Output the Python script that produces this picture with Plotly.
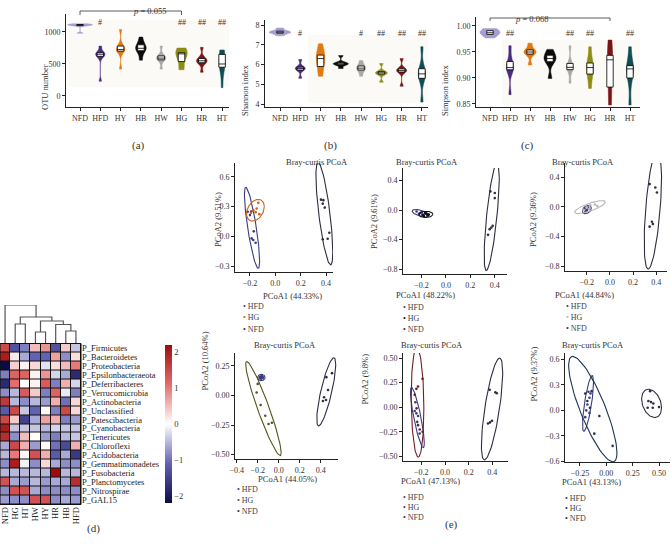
import numpy as np
import plotly.graph_objects as go

W, H = 671, 544
SERIF = "Liberation Serif"

# ---------------- data ----------------
groups = ["NFD", "HFD", "HY", "HB", "HW", "HG", "HR", "HT"]
group_colors = ["#a59cd2", "#4b2b7d", "#e07a10", "#0b0b0b", "#a9a9a9", "#8d8d14", "#7b1414", "#0f4d53"]

otu_number = {
    "NFD": [980, 1095, 1105, 1110, 1114, 1120, 1128],
    "HFD": [230, 600, 640, 652, 662, 690, 780],
    "HY": [420, 690, 710, 725, 760, 800, 1040],
    "HB": [560, 690, 725, 745, 780, 820, 920],
    "HW": [420, 550, 580, 592, 612, 640, 780],
    "HG": [410, 430, 645, 658, 668, 685, 750],
    "HR": [370, 510, 530, 550, 570, 600, 760],
    "HT": [130, 430, 470, 500, 600, 700, 720],
}
shannon_index = {
    "NFD": [7.45, 7.58, 7.62, 7.65, 7.70, 7.85],
    "HFD": [5.30, 5.70, 5.78, 5.82, 5.88, 6.25],
    "HY": [5.40, 5.60, 6.20, 6.30, 6.40, 6.55, 7.05],
    "HB": [5.80, 5.98, 6.02, 6.05, 6.10, 6.45],
    "HW": [5.40, 5.70, 5.78, 5.85, 5.95, 6.20],
    "HG": [5.10, 5.50, 5.55, 5.60, 5.65, 6.05],
    "HR": [4.90, 5.60, 5.68, 5.72, 5.80, 6.30],
    "HT": [4.10, 5.25, 5.45, 5.60, 5.85, 6.90],
}
simpson_index = {
    "NFD": [0.977, 0.983, 0.986, 0.988, 0.992, 0.995],
    "HFD": [0.868, 0.915, 0.918, 0.922, 0.935, 0.962],
    "HY": [0.925, 0.945, 0.949, 0.951, 0.955, 0.967],
    "HB": [0.899, 0.930, 0.935, 0.940, 0.945, 0.955],
    "HW": [0.890, 0.915, 0.919, 0.922, 0.930, 0.962],
    "HG": [0.880, 0.905, 0.915, 0.925, 0.930, 0.960],
    "HR": [0.848, 0.860, 0.905, 0.935, 0.942, 0.945, 0.973],
    "HT": [0.848, 0.895, 0.915, 0.920, 0.925, 0.960],
}
sig_a = {"HFD": "#", "HG": "##", "HR": "##", "HT": "##"}
sig_b = {"HFD": "#", "HW": "#", "HG": "##", "HR": "##", "HT": "##"}
sig_c = {"HFD": "##", "HW": "##", "HG": "##", "HT": "##"}

# heatmap (d)
hm_cols = ["NFD", "HG", "HT", "HW", "HY", "HR", "HB", "HFD"]
hm_rows = ["P_Firmicutes", "P_Bacteroidetes", "P_Proteobacteria", "P_Epsilonbacteraeota",
           "P_Deferribacteres", "P_Verrucomicrobia", "P_Actinobacteria", "P_Unclassified",
           "P_Patescibacteria", "P_Cyanobacteria", "P_Tenericutes", "P_Chloroflexi",
           "P_Acidobacteria", "P_Gemmatimonadetes", "P_Fusobacteria", "P_Planctomycetes",
           "P_Nitrospirae", "P_GAL15"]
hm_values = [
    [1.5, -1.3, -0.9, 0.5, 0.8, -1.3, 0.4, -0.4],
    [2.0, 0.15, -0.6, -1.1, -1.1, 0.7, -0.8, 0.25],
    [-2.2, 0.35, 0.1, 0.3, -0.2, 0.25, 0.5, 1.0],
    [-0.9, 1.2, 1.2, 0.1, 0.8, -0.3, -0.6, -1.8],
    [-1.8, 1.1, 0.0, 0.1, 1.3, -0.9, 0.6, -0.3],
    [-0.8, -0.5, 1.3, 0.4, -0.9, 1.2, -0.15, -0.9],
    [1.7, -0.5, -0.8, -0.5, -0.7, 0.6, -1.0, 0.3],
    [-1.2, 1.5, -0.4, -1.1, 0.05, -0.9, 1.5, 0.3],
    [1.5, 0.4, -1.5, -0.6, 0.7, 0.6, -0.9, -0.7],
    [2.0, -0.4, -0.4, -0.4, -0.5, -0.3, -0.4, -0.4],
    [1.8, -0.8, 0.5, 0.0, -0.7, -0.9, -0.5, -0.4],
    [-0.6, 1.5, 0.6, -0.7, 0.05, -1.0, -1.4, 0.6],
    [-0.5, 1.0, 0.05, 1.4, 0.6, -1.2, -0.6, -1.6],
    [-0.8, 2.0, -0.1, -0.8, 0.3, -0.6, -0.8, -0.8],
    [-0.5, -0.5, -0.5, -0.5, -0.5, 2.2, -0.5, -0.5],
    [1.4, -0.6, -0.7, -0.5, -0.7, -0.6, -0.6, 1.8],
    [-0.8, 1.4, 1.4, -0.6, -0.8, -0.8, -0.8, -0.8],
    [-0.7, -0.8, -0.8, 1.4, 1.4, -0.8, -0.6, -0.7],
]
# column dendrogram: [left node, right node, height]; leaves 0..7 in hm_cols order
dendro_merges = [[6, 7, 13], [3, 4, 12], [1, 2, 20], [5, 8, 19.5], [9, 11, 23], [10, 12, 27], [0, 13, 39]]

# PCoA (e)
pcoa_x_titles = ["PCoA1 (44.33%)", "PCoA1 (48.22%)", "PCoA1 (44.84%)", "PCoA1 (44.05%)", "PCoA1 (47.13%)", "PCoA1 (43.13%)"]
pcoa_y_titles = ["PCoA2 (9.51%)", "PCoA2 (9.61%)", "PCoA2 (9.36%)", "PCoA2 (10.64%)", "PCoA2 (9.8%)", "PCoA2 (9.37%)"]
pcoa_group_names = ["HFD", "HG", "NFD"]
pcoa_hfd_color = "#3d3b7e"
pcoa_nfd_color = "#2e2e40"
pcoa_hg_colors = ["#c8641e", "#111111", "#b8b8b8", "#55551f", "#6e1f26", "#1d3553"]

e1_HFD = [(-0.218, 0.247), (-0.2, 0.214), (-0.19, 0.25), (-0.17, 0.05), (-0.187, -0.021), (-0.174, -0.037), (-0.155, -0.065)]
e1_HG = [(-0.134, 0.338), (-0.147, 0.281), (-0.174, 0.264), (-0.192, 0.237), (-0.155, 0.244), (-0.126, 0.224)]
e1_NFD = [(0.36, 0.37), (0.379, 0.365), (0.374, 0.33), (0.39, 0.29), (0.426, 0.036), (0.374, -0.03), (0.413, -0.025)]
e2_HFD = [(-0.24, -0.02), (-0.22, -0.05), (-0.2, -0.03), (-0.19, -0.07), (-0.21, -0.04), (-0.17, -0.05)]
e2_HG = [(-0.19, -0.06), (-0.17, -0.04), (-0.15, -0.07), (-0.16, -0.05), (-0.18, -0.08), (-0.14, -0.06)]
e2_NFD = [(0.364, 0.251), (0.4, 0.229), (0.4, 0.161), (0.358, -0.258), (0.372, -0.236), (0.383, -0.213), (0.345, -0.335)]
e3_HFD = [(-0.22, -0.02), (-0.2, -0.04), (-0.19, -0.01), (-0.21, -0.06), (-0.18, -0.03), (-0.2, -0.05)]
e3_HG = [(-0.23, -0.04), (-0.18, -0.03), (-0.13, 0.03), (-0.2, -0.01), (-0.11, 0.01), (-0.17, 0.02)]
e3_NFD = [(0.343, 0.305), (0.392, 0.26), (0.406, 0.193), (0.363, -0.2), (0.343, -0.267), (0.371, -0.231)]
e4_HFD = [(-0.18, 0.15), (-0.16, 0.163), (-0.15, 0.152), (-0.17, 0.14), (-0.158, 0.145), (-0.175, 0.16)]
e4_HG = [(-0.2, 0.097), (-0.21, 0.024), (-0.172, -0.081), (-0.128, -0.172), (-0.097, -0.242), (-0.065, -0.231)]
e4_NFD = [(0.507, 0.188), (0.453, 0.154), (0.469, 0.046), (0.431, -0.016), (0.421, -0.047), (0.45, -0.039)]
e5_HFD = [(-0.256, -0.039), (-0.242, -0.063), (-0.228, -0.09), (-0.235, -0.15), (-0.214, -0.268), (-0.19, -0.25), (-0.25, 0.05)]
e5_HG = [(-0.19, 0.288), (-0.228, 0.21), (-0.242, 0.186), (-0.256, 0.125), (-0.24, -0.012), (-0.228, -0.183), (-0.214, -0.227)]
e5_NFD = [(0.377, 0.176), (0.425, 0.152), (0.437, 0.142), (0.363, -0.166), (0.38, -0.155), (0.397, -0.138)]
e6_HFD = [(-0.17, 0.22), (-0.15, 0.2), (-0.16, 0.15), (-0.18, 0.07), (-0.19, 0.0), (-0.16, -0.03), (-0.2, -0.08)]
e6_HG = [(-0.139, 0.227), (-0.18, 0.11), (-0.155, 0.03), (-0.066, -0.067), (-0.114, -0.275), (0.06, -0.42), (-0.2, 0.2)]
e6_NFD = [(0.415, 0.227), (0.399, 0.11), (0.424, 0.098), (0.446, 0.082), (0.392, 0.031), (0.44, 0.031), (0.5, 0.039)]
pcoa_points = [(e1_HFD, e1_HG, e1_NFD), (e2_HFD, e2_HG, e2_NFD), (e3_HFD, e3_HG, e3_NFD),
               (e4_HFD, e4_HG, e4_NFD), (e5_HFD, e5_HG, e5_NFD), (e6_HFD, e6_HG, e6_NFD)]

# ---------------- helpers ----------------
def X(p): return p / W
def Y(p): return 1 - p / H
def dom_x(a, b): return [a / W, b / W]
def dom_y(top, bottom): return [1 - bottom / H, 1 - top / H]

tickfont = dict(family=SERIF, size=8, color="#333")
axis_common = dict(showline=True, linecolor="#222", linewidth=1, ticks="outside", ticklen=3,
                   tickwidth=1, tickcolor="#222", showgrid=False, zeroline=False,
                   tickfont=tickfont, mirror=False, automargin=False, ticklabeloverflow="allow")

fig = go.Figure()
annotations = []
shapes = []
layout_axes = {}

def axname(kind, i):
    return f"{kind}axis" if i == 1 else f"{kind}axis{i}"

def ref(kind, i):
    return kind if i == 1 else f"{kind}{i}"

# ---------------- violins (a, b, c) ----------------
violin_panels = [
    dict(i=1, data=otu_number, xd=(66, 229), yd=(14, 107), xr=[-0.69, 7.34], yr=[-172, 1281],
         tv=[0, 500, 1000], tf="d", title="OTU number", tx=38, sig=sig_a, sig_y=16,
         vw=[1.23, 0.46, 0.42, 0.52, 0.46, 0.56, 0.52, 0.3]),
    dict(i=2, data=shannon_index, xd=(265, 428), yd=(20, 107), xr=[-0.74, 7.3], yr=[3.848, 8.253],
         tv=[4, 5, 6, 7, 8], tf="d", title="Shannon index", tx=245, sig=sig_b, sig_y=27,
         vw=[1.08, 0.5, 0.42, 0.75, 0.45, 0.58, 0.5, 0.36]),
    dict(i=3, data=simpson_index, xd=(476, 640), yd=(17, 107), xr=[-0.7, 7.5], yr=[0.8442, 1.0173],
         tv=[0.85, 0.90, 0.95, 1.00], tf=".2f", title="Simpson index", tx=445, sig=sig_c, sig_y=27,
         vw=[1.0, 0.36, 0.6, 0.6, 0.32, 0.36, 0.26, 0.36]),
]
for vp in violin_panels:
    i = vp["i"]
    for g, c, w in zip(groups, group_colors, vp["vw"]):
        vals = vp["data"][g]
        fig.add_trace(go.Violin(
            x=[g] * len(vals), y=vals, xaxis=ref("x", i), yaxis=ref("y", i),
            fillcolor=c, line=dict(color=c, width=0.5), opacity=1,
            box=dict(visible=False), meanline=dict(visible=False), points=False,
            spanmode="hard", width=w, scalemode="width", showlegend=False, hoverinfo="skip"))
        q1, med, q3 = np.percentile(vals, [25, 50, 75])
        fig.add_trace(go.Box(
            x=[g], q1=[q1], median=[med], q3=[q3], lowerfence=[q1], upperfence=[q3],
            xaxis=ref("x", i), yaxis=ref("y", i), width=0.32, fillcolor="white",
            line=dict(color="black", width=0.8), whiskerwidth=0, showlegend=False, hoverinfo="skip"))
    layout_axes[axname("x", i)] = dict(axis_common, domain=dom_x(*vp["xd"]), anchor=ref("y", i),
                                       type="category", categoryorder="array", categoryarray=groups,
                                       range=vp["xr"])
    layout_axes[axname("y", i)] = dict(axis_common, domain=dom_y(*vp["yd"]), anchor=ref("x", i),
                                       range=vp["yr"], tickvals=vp["tv"], tickformat=vp["tf"])
    annotations.append(dict(text=vp["title"], x=X(vp["tx"]), y=Y(62), xref="paper", yref="paper",
                            textangle=-90, showarrow=False,
                            font=dict(family=SERIF, size=8.5, color="#333")))
    for g, s in vp["sig"].items():
        annotations.append(dict(text=s, x=g, y=Y(vp["sig_y"]), xref=ref("x", i), yref="paper",
                                showarrow=False, font=dict(family=SERIF, size=8, color="#333")))

# background shading of panels
for (x0, x1, y0, y1) in [(68, 229, 20, 87), (308, 428, 35, 103), (502, 640, 40, 105)]:
    shapes.append(dict(type="rect", xref="paper", yref="paper", x0=X(x0), x1=X(x1), y0=Y(y1), y1=Y(y0),
                       fillcolor="#fcfaf7", line=dict(width=0), layer="below"))

# p-value brackets
def bracket(i, g0, g1, ytop, ydrop, txt, tx, ty):
    xr = ref("x", i)
    shapes.append(dict(type="line", xref=xr, yref="paper", x0=g0, x1=g1, y0=Y(ytop), y1=Y(ytop),
                       line=dict(color="#333", width=0.8)))
    for g in (g0, g1):
        shapes.append(dict(type="line", xref=xr, yref="paper", x0=g, x1=g, y0=Y(ytop), y1=Y(ydrop),
                           line=dict(color="#333", width=0.8)))
    annotations.append(dict(text=txt, x=X(tx), y=Y(ty), xref="paper", yref="paper", showarrow=False,
                            font=dict(family=SERIF, size=8.5, color="#333")))

bracket(1, "NFD", "HG", 11, 15, "<i>p</i> = 0.055", 131, 4)
bracket(3, "NFD", "HR", 18, 21, "<i>p</i> = 0.068", 550, 12)

# ---------------- heatmap (d) ----------------
hm_colorscale = [[0.0, "#0b0b48"], [0.25, "#6262b2"], [0.5, "#ffffff"], [0.75, "#e46c6c"], [1.0, "#9c0c0c"]]
fig.add_trace(go.Heatmap(
    z=hm_values, x=list(range(len(hm_cols))), y=list(range(len(hm_rows))),
    xaxis="x4", yaxis="y4", colorscale=hm_colorscale, zmin=-2.2, zmax=2.2, xgap=1, ygap=1,
    hoverinfo="skip",
    colorbar=dict(x=X(165), xanchor="left", y=Y(424), yanchor="middle", len=158 / H, lenmode="fraction",
                  thickness=7, thicknessmode="pixels", outlinewidth=0, ticks="",
                  tickvals=[-2, -1, 0, 1, 2], ticktext=["\u22122", "\u22121", "0", "1", "2"],
                  tickfont=dict(family=SERIF, size=8.5, color="#333"), xpad=0, ypad=0)))
layout_axes["xaxis4"] = dict(domain=dom_x(0, 81), anchor="y4", range=[-0.5, 7.5], showgrid=False,
                             zeroline=False, showline=False, ticks="", tickangle=-90, automargin=False,
                             ticklabeloverflow="allow",
                             tickvals=list(range(len(hm_cols))), ticktext=hm_cols,
                             tickfont=dict(family=SERIF, size=8.5, color="#222"))
layout_axes["yaxis4"] = dict(domain=dom_y(343.5, 504.5), anchor="x4", range=[len(hm_rows) - 0.5, -0.5],
                             showgrid=False, zeroline=False, showline=False, ticks="", side="right",
                             automargin=False, ticklabeloverflow="allow",
                             tickvals=list(range(len(hm_rows))), ticktext=hm_rows,
                             tickfont=dict(family=SERIF, size=8.5, color="#222"))
shapes.append(dict(type="rect", xref="x4 domain", yref="y4 domain", x0=0, x1=1, y0=0, y1=1,
                   fillcolor="#111", line=dict(width=0), layer="below"))
shapes.append(dict(type="rect", xref="x4 domain", yref="y4 domain", x0=0, x1=1, y0=0, y1=1,
                   fillcolor="rgba(0,0,0,0)", line=dict(color="#111", width=1), layer="above"))

# dendrogram
node_x = {k: float(k) for k in range(len(hm_cols))}
node_h = {k: 0.0 for k in range(len(hm_cols))}
dx, dy = [], []
for n, (a, b, h) in enumerate(dendro_merges):
    nid = len(hm_cols) + n
    xa, xb = node_x[a], node_x[b]
    dx += [xa, xa, xb, xb, None]
    dy += [node_h[a], h, h, node_h[b], None]
    node_x[nid] = (xa + xb) / 2
    node_h[nid] = h
fig.add_trace(go.Scatter(x=dx, y=dy, xaxis="x5", yaxis="y5", mode="lines",
                         line=dict(color="#555", width=1.2), showlegend=False, hoverinfo="skip"))
layout_axes["xaxis5"] = dict(domain=dom_x(0, 81), anchor="y5", range=[-0.5, 7.5], visible=False)
layout_axes["yaxis5"] = dict(domain=dom_y(305, 344), anchor="x5", range=[0, 39], visible=False)

# ---------------- PCoA (e) ----------------
def cov_trob(P, nu=5, iters=100):
    n, p = P.shape
    loc = P.mean(0)
    cov = np.cov(P.T, bias=True)
    for _ in range(iters):
        d = P - loc
        inv = np.linalg.inv(cov)
        dist = np.einsum("ij,jk,ik->i", d, inv, d)
        w = (nu + p) / (nu + dist)
        loc = (w[:, None] * P).sum(0) / w.sum()
        d = P - loc
        cov = (w[:, None, None] * np.einsum("ij,ik->ijk", d, d)).sum(0) / n
    return loc, cov

def ellipse(points, level=0.95, segs=80):
    P = np.asarray(points, dtype=float)
    n = len(P)
    loc, cov = cov_trob(P)
    m = n - 1
    fq = (m / 2) * ((1 - level) ** (-2 / m) - 1)
    r = np.sqrt(2 * fq)
    t = np.linspace(0, 2 * np.pi, segs)
    circ = np.stack([np.cos(t), np.sin(t)], axis=1)
    chol = np.linalg.cholesky(cov).T  # upper
    e = loc + r * circ @ chol
    return e[:, 0], e[:, 1]

pcoa_layout = [
    dict(xd=(235, 333), yd=(163, 272), xr=[-0.318, 0.455], yr=[-0.36, 0.74], xt=[-0.2, 0, 0.2, 0.4], xf=".1f",
         yt=[-0.3, 0, 0.3, 0.6], yf=".1f", title=(317, 155), xtl=(292, 296), ytl=(211, 220), leg=(243, [306, 317, 329])),
    dict(xd=(403, 507), yd=(168, 274), xr=[-0.351, 0.50], yr=[-0.863, 0.567], xt=[-0.2, 0, 0.2, 0.4], xf=".1f",
         yt=[-0.8, -0.4, 0, 0.4], yf=".1f", title=(460, 155), xtl=(457, 295), ytl=(374, 221), leg=(403, [307, 318, 329])),
    dict(xd=(565, 667), yd=(163, 271), xr=[-0.388, 0.493], yr=[-0.863, 0.589], xt=[-0.2, 0, 0.2, 0.4], xf=".1f",
         yt=[-0.8, -0.4, 0, 0.4], yf=".1f", title=(616, 155), xtl=(616, 295), ytl=(540, 220), leg=(566, [306, 317, 328])),
    dict(xd=(235, 338), yd=(353, 459), xr=[-0.416, 0.564], yr=[-0.537, 0.358], xt=[-0.4, -0.2, 0, 0.2, 0.4], xf=".1f",
         yt=[-0.5, -0.25, 0, 0.25], yf=".2f", title=(285, 345), xtl=(287, 486), ytl=(197, 393), leg=(237, [496, 507, 518])),
    dict(xd=(403, 508), yd=(353, 461), xr=[-0.355, 0.532], yr=[-0.548, 0.551], xt=[-0.2, 0, 0.2, 0.4], xf=".1f",
         yt=[-0.5, -0.25, 0, 0.25, 0.5], yf=".2f", title=(465, 345), xtl=(462, 488), ytl=(364, 407), leg=(403, [504, 514, 524])),
    dict(xd=(565, 670), yd=(353, 462), xr=[-0.392, 0.604], yr=[-0.61, 0.678], xt=[-0.25, 0, 0.25, 0.5], xf=".2f",
         yt=[-0.6, -0.3, 0, 0.3, 0.6], yf=".1f", title=(626, 345), xtl=(623, 489), ytl=(540, 404), leg=(565, [505, 515, 525])),
]

for k, (pl, pts) in enumerate(zip(pcoa_layout, pcoa_points)):
    i = 6 + k
    colors = [pcoa_hfd_color, pcoa_hg_colors[k], pcoa_nfd_color]
    for gname, gpts, col in zip(pcoa_group_names, pts, colors):
        ex, ey = ellipse(gpts)
        fig.add_trace(go.Scatter(x=ex, y=ey, xaxis=f"x{i}", yaxis=f"y{i}", mode="lines",
                                 line=dict(color=col, width=1.1), showlegend=False, hoverinfo="skip"))
        fig.add_trace(go.Scatter(x=[p[0] for p in gpts], y=[p[1] for p in gpts], xaxis=f"x{i}", yaxis=f"y{i}",
                                 mode="markers", marker=dict(color=col, size=2.6),
                                 showlegend=False, hoverinfo="skip"))
    layout_axes[f"xaxis{i}"] = dict(axis_common, domain=dom_x(*pl["xd"]), anchor=f"y{i}", range=pl["xr"],
                                    tickvals=pl["xt"], tickformat=pl["xf"])
    layout_axes[f"yaxis{i}"] = dict(axis_common, domain=dom_y(*pl["yd"]), anchor=f"x{i}", range=pl["yr"],
                                    tickvals=pl["yt"], tickformat=pl["yf"])
    annotations.append(dict(text="Bray-curtis PCoA", x=X(pl["title"][0]), y=Y(pl["title"][1]),
                            xref="paper", yref="paper", showarrow=False,
                            font=dict(family=SERIF, size=8.5, color="#333")))
    annotations.append(dict(text=pcoa_x_titles[k], x=X(pl["xtl"][0]), y=Y(pl["xtl"][1]),
                            xref="paper", yref="paper", showarrow=False,
                            font=dict(family=SERIF, size=8.5, color="#333")))
    annotations.append(dict(text=pcoa_y_titles[k], x=X(pl["ytl"][0]), y=Y(pl["ytl"][1]), textangle=-90,
                            xref="paper", yref="paper", showarrow=False,
                            font=dict(family=SERIF, size=8.5, color="#333")))
    lx, lys = pl["leg"]
    for gname, col, ly in zip(pcoa_group_names, colors, lys):
        annotations.append(dict(text=f"<span style='color:{col}'>\u2022</span> {gname}", x=X(lx - 2), y=Y(ly),
                                xref="paper", yref="paper", xanchor="left", showarrow=False,
                                font=dict(family=SERIF, size=8, color="#444")))

# panel labels
for lab, (lx, ly) in zip(["(a)", "(b)", "(c)", "(d)", "(e)"],
                         [(130, 137), (330, 137), (536, 137), (85, 537), (460, 533)]):
    annotations.append(dict(text=lab, x=X(lx), y=Y(ly), xref="paper", yref="paper", showarrow=False,
                            font=dict(family=SERIF, size=11, color="#333")))

fig.update_layout(width=W, height=H, margin=dict(l=0, r=0, t=0, b=0, autoexpand=False),
                  paper_bgcolor="white", plot_bgcolor="rgba(0,0,0,0)",
                  violinmode="overlay", boxmode="overlay", showlegend=False,
                  annotations=annotations, shapes=shapes, **layout_axes)

fig.write_html("out.html", config={"displayModeBar": False, "staticPlot": True},
               post_script="document.body.style.margin='0';document.body.style.overflow='hidden';")
